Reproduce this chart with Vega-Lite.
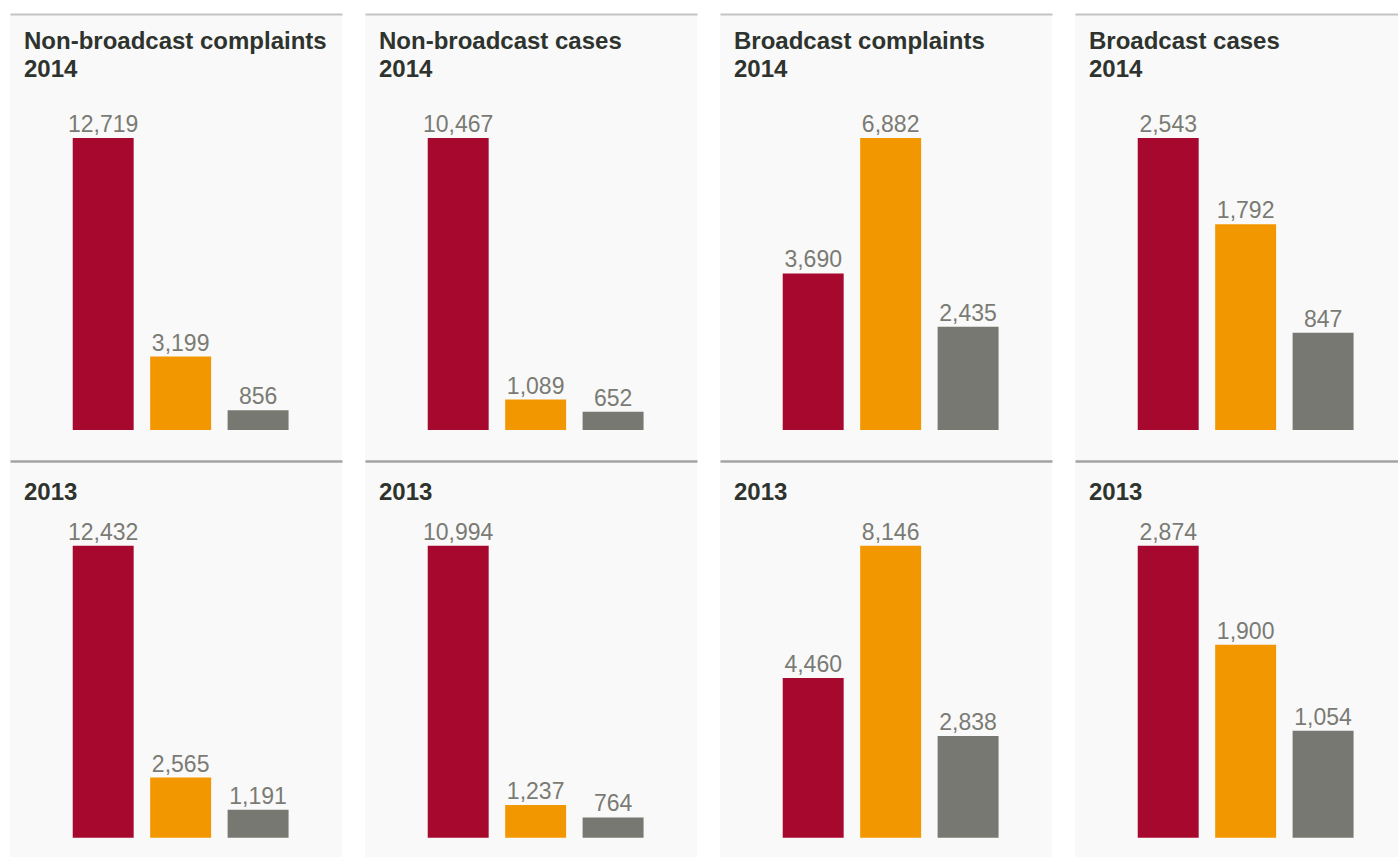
{
  "$schema": "https://vega.github.io/schema/vega-lite/v6.json",
  "background": "white",
  "padding": {"left": 10, "top": 14, "right": 0, "bottom": 0},
  "datasets": {
    "asa": [
      {"panel": "NBC2014", "category": "Misleading", "value": 12719},
      {"panel": "NBC2014", "category": "Harm and offence", "value": 3199},
      {"panel": "NBC2014", "category": "Other", "value": 856},
      {"panel": "NBK2014", "category": "Misleading", "value": 10467},
      {"panel": "NBK2014", "category": "Harm and offence", "value": 1089},
      {"panel": "NBK2014", "category": "Other", "value": 652},
      {"panel": "BC2014", "category": "Misleading", "value": 3690},
      {"panel": "BC2014", "category": "Harm and offence", "value": 6882},
      {"panel": "BC2014", "category": "Other", "value": 2435},
      {"panel": "BK2014", "category": "Misleading", "value": 2543},
      {"panel": "BK2014", "category": "Harm and offence", "value": 1792},
      {"panel": "BK2014", "category": "Other", "value": 847},
      {"panel": "NBC2013", "category": "Misleading", "value": 12432},
      {"panel": "NBC2013", "category": "Harm and offence", "value": 2565},
      {"panel": "NBC2013", "category": "Other", "value": 1191},
      {"panel": "NBK2013", "category": "Misleading", "value": 10994},
      {"panel": "NBK2013", "category": "Harm and offence", "value": 1237},
      {"panel": "NBK2013", "category": "Other", "value": 764},
      {"panel": "BC2013", "category": "Misleading", "value": 4460},
      {"panel": "BC2013", "category": "Harm and offence", "value": 8146},
      {"panel": "BC2013", "category": "Other", "value": 2838},
      {"panel": "BK2013", "category": "Misleading", "value": 2874},
      {"panel": "BK2013", "category": "Harm and offence", "value": 1900},
      {"panel": "BK2013", "category": "Other", "value": 1054}
    ]
  },
  "data": {"name": "asa"},
  "columns": 4,
  "spacing": {"row": 1, "column": 23},
  "concat": [
    {
      "width": 332, "height": 446,
      "title": {"text": ["Non-broadcast complaints", "2014"], "offset": -68},
      "transform": [{"filter": "datum.panel === 'NBC2014'"}],
      "encoding": {
        "x": {"field": "category", "type": "nominal", "sort": ["Misleading", "Harm and offence", "Other"], "scale": {"paddingInner": 0.213, "paddingOuter": 0.75, "align": 0.54}, "axis": {"orient": "top", "title": null, "domainColor": "#c4c4c4", "domainWidth": 2}},
        "y": {"field": "value", "type": "quantitative", "scale": {"range": [416, 124], "nice": false, "zero": true}, "axis": null},
        "color": {"field": "category", "type": "nominal", "scale": {"domain": ["Misleading", "Harm and offence", "Other"], "range": ["#a7092e", "#f39700", "#767871"]}, "legend": null}
      },
      "layer": [
        {"mark": {"type": "bar"}},
        {"mark": {"type": "text"}, "encoding": {"text": {"field": "value", "type": "quantitative", "format": ","}, "color": {"value": "#7a7b74"}}}
      ]
    },
    {
      "width": 332, "height": 446,
      "title": {"text": ["Non-broadcast cases", "2014"], "offset": -68},
      "transform": [{"filter": "datum.panel === 'NBK2014'"}],
      "encoding": {
        "x": {"field": "category", "type": "nominal", "sort": ["Misleading", "Harm and offence", "Other"], "scale": {"paddingInner": 0.213, "paddingOuter": 0.75, "align": 0.54}, "axis": {"orient": "top", "title": null, "domainColor": "#c4c4c4", "domainWidth": 2}},
        "y": {"field": "value", "type": "quantitative", "scale": {"range": [416, 124], "nice": false, "zero": true}, "axis": null},
        "color": {"field": "category", "type": "nominal", "scale": {"domain": ["Misleading", "Harm and offence", "Other"], "range": ["#a7092e", "#f39700", "#767871"]}, "legend": null}
      },
      "layer": [
        {"mark": {"type": "bar"}},
        {"mark": {"type": "text"}, "encoding": {"text": {"field": "value", "type": "quantitative", "format": ","}, "color": {"value": "#7a7b74"}}}
      ]
    },
    {
      "width": 332, "height": 446,
      "title": {"text": ["Broadcast complaints", "2014"], "offset": -68},
      "transform": [{"filter": "datum.panel === 'BC2014'"}],
      "encoding": {
        "x": {"field": "category", "type": "nominal", "sort": ["Misleading", "Harm and offence", "Other"], "scale": {"paddingInner": 0.213, "paddingOuter": 0.75, "align": 0.54}, "axis": {"orient": "top", "title": null, "domainColor": "#c4c4c4", "domainWidth": 2}},
        "y": {"field": "value", "type": "quantitative", "scale": {"range": [416, 124], "nice": false, "zero": true}, "axis": null},
        "color": {"field": "category", "type": "nominal", "scale": {"domain": ["Misleading", "Harm and offence", "Other"], "range": ["#a7092e", "#f39700", "#767871"]}, "legend": null}
      },
      "layer": [
        {"mark": {"type": "bar"}},
        {"mark": {"type": "text"}, "encoding": {"text": {"field": "value", "type": "quantitative", "format": ","}, "color": {"value": "#7a7b74"}}}
      ]
    },
    {
      "width": 332, "height": 446,
      "title": {"text": ["Broadcast cases", "2014"], "offset": -68},
      "transform": [{"filter": "datum.panel === 'BK2014'"}],
      "encoding": {
        "x": {"field": "category", "type": "nominal", "sort": ["Misleading", "Harm and offence", "Other"], "scale": {"paddingInner": 0.213, "paddingOuter": 0.75, "align": 0.54}, "axis": {"orient": "top", "title": null, "domainColor": "#c4c4c4", "domainWidth": 2}},
        "y": {"field": "value", "type": "quantitative", "scale": {"range": [416, 124], "nice": false, "zero": true}, "axis": null},
        "color": {"field": "category", "type": "nominal", "scale": {"domain": ["Misleading", "Harm and offence", "Other"], "range": ["#a7092e", "#f39700", "#767871"]}, "legend": null}
      },
      "layer": [
        {"mark": {"type": "bar"}},
        {"mark": {"type": "text"}, "encoding": {"text": {"field": "value", "type": "quantitative", "format": ","}, "color": {"value": "#7a7b74"}}}
      ]
    },
    {
      "width": 332, "height": 409,
      "title": {"text": "2013", "offset": -44},
      "transform": [{"filter": "datum.panel === 'NBC2013'"}],
      "encoding": {
        "x": {"field": "category", "type": "nominal", "sort": ["Misleading", "Harm and offence", "Other"], "scale": {"paddingInner": 0.213, "paddingOuter": 0.75, "align": 0.54}, "axis": {"orient": "top", "title": null, "domainColor": "#a3a3a3", "domainWidth": 2.5}},
        "y": {"field": "value", "type": "quantitative", "scale": {"range": [376.75, 84.75], "nice": false, "zero": true}, "axis": null},
        "color": {"field": "category", "type": "nominal", "scale": {"domain": ["Misleading", "Harm and offence", "Other"], "range": ["#a7092e", "#f39700", "#767871"]}, "legend": null}
      },
      "layer": [
        {"mark": {"type": "bar"}},
        {"mark": {"type": "text"}, "encoding": {"text": {"field": "value", "type": "quantitative", "format": ","}, "color": {"value": "#7a7b74"}}}
      ]
    },
    {
      "width": 332, "height": 409,
      "title": {"text": "2013", "offset": -44},
      "transform": [{"filter": "datum.panel === 'NBK2013'"}],
      "encoding": {
        "x": {"field": "category", "type": "nominal", "sort": ["Misleading", "Harm and offence", "Other"], "scale": {"paddingInner": 0.213, "paddingOuter": 0.75, "align": 0.54}, "axis": {"orient": "top", "title": null, "domainColor": "#a3a3a3", "domainWidth": 2.5}},
        "y": {"field": "value", "type": "quantitative", "scale": {"range": [376.75, 84.75], "nice": false, "zero": true}, "axis": null},
        "color": {"field": "category", "type": "nominal", "scale": {"domain": ["Misleading", "Harm and offence", "Other"], "range": ["#a7092e", "#f39700", "#767871"]}, "legend": null}
      },
      "layer": [
        {"mark": {"type": "bar"}},
        {"mark": {"type": "text"}, "encoding": {"text": {"field": "value", "type": "quantitative", "format": ","}, "color": {"value": "#7a7b74"}}}
      ]
    },
    {
      "width": 332, "height": 409,
      "title": {"text": "2013", "offset": -44},
      "transform": [{"filter": "datum.panel === 'BC2013'"}],
      "encoding": {
        "x": {"field": "category", "type": "nominal", "sort": ["Misleading", "Harm and offence", "Other"], "scale": {"paddingInner": 0.213, "paddingOuter": 0.75, "align": 0.54}, "axis": {"orient": "top", "title": null, "domainColor": "#a3a3a3", "domainWidth": 2.5}},
        "y": {"field": "value", "type": "quantitative", "scale": {"range": [376.75, 84.75], "nice": false, "zero": true}, "axis": null},
        "color": {"field": "category", "type": "nominal", "scale": {"domain": ["Misleading", "Harm and offence", "Other"], "range": ["#a7092e", "#f39700", "#767871"]}, "legend": null}
      },
      "layer": [
        {"mark": {"type": "bar"}},
        {"mark": {"type": "text"}, "encoding": {"text": {"field": "value", "type": "quantitative", "format": ","}, "color": {"value": "#7a7b74"}}}
      ]
    },
    {
      "width": 332, "height": 409,
      "title": {"text": "2013", "offset": -44},
      "transform": [{"filter": "datum.panel === 'BK2013'"}],
      "encoding": {
        "x": {"field": "category", "type": "nominal", "sort": ["Misleading", "Harm and offence", "Other"], "scale": {"paddingInner": 0.213, "paddingOuter": 0.75, "align": 0.54}, "axis": {"orient": "top", "title": null, "domainColor": "#a3a3a3", "domainWidth": 2.5}},
        "y": {"field": "value", "type": "quantitative", "scale": {"range": [376.75, 84.75], "nice": false, "zero": true}, "axis": null},
        "color": {"field": "category", "type": "nominal", "scale": {"domain": ["Misleading", "Harm and offence", "Other"], "range": ["#a7092e", "#f39700", "#767871"]}, "legend": null}
      },
      "layer": [
        {"mark": {"type": "bar"}},
        {"mark": {"type": "text"}, "encoding": {"text": {"field": "value", "type": "quantitative", "format": ","}, "color": {"value": "#7a7b74"}}}
      ]
    }
  ],
  "config": {
    "view": {"fill": "#f9f9f9", "stroke": null},
    "axis": {"ticks": false, "labels": false, "grid": false, "domainCap": "butt"},
    "title": {"anchor": "start", "frame": "group", "baseline": "alphabetic", "dx": 14, "font": "Liberation Sans", "fontSize": 24, "fontWeight": "bold", "color": "#2e332e", "lineHeight": 28.5, "limit": 0},
    "bar": {"strokeWidth": 0},
    "text": {"font": "Liberation Sans", "fontSize": 23, "baseline": "alphabetic", "align": "center", "dy": -6}
  }
}
